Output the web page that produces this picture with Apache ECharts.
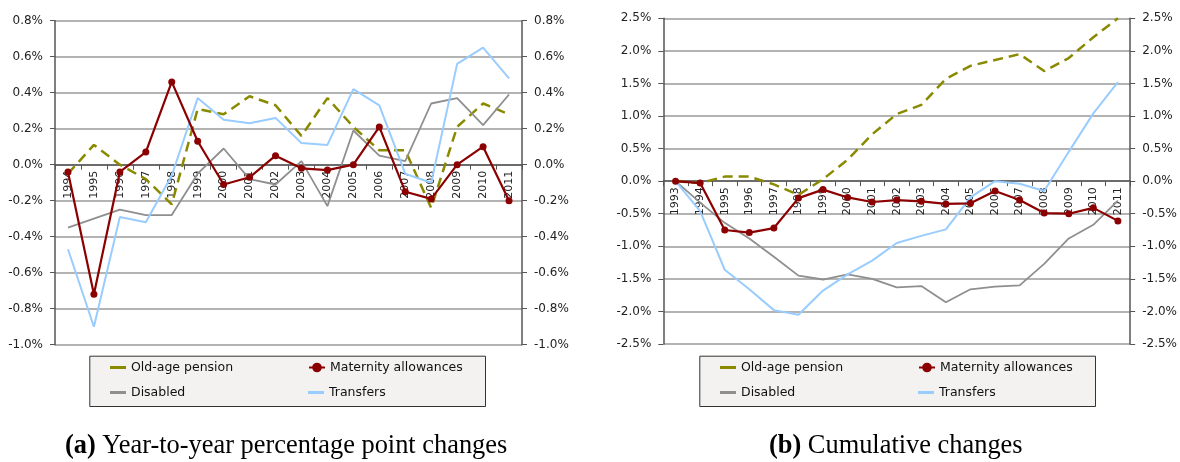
<!DOCTYPE html>
<html>
<head>
<meta charset="utf-8">
<script src="https://cdn.jsdelivr.net/npm/echarts@6/dist/echarts.min.js"></script>
<style>
  html, body { margin: 0; padding: 0; background: #fff; }
  #chart { width: 1180px; height: 462px; }
</style>
</head>
<body>
<div id="chart"></div>
<script>
// (a) year-to-year changes, percentage points
const yearsA = ['1994', '1995', '1996', '1997', '1998', '1999', '2000', '2001', '2002',
  '2003', '2004', '2005', '2006', '2007', '2008', '2009', '2010', '2011'];
const oldAgeA = [-0.05, 0.11, 0.0, -0.08, -0.22, 0.31, 0.28, 0.38, 0.33, 0.16, 0.37, 0.21, 0.08, 0.08, -0.24, 0.21, 0.34, 0.28];
const maternityA = [-0.04, -0.72, -0.04, 0.07, 0.46, 0.13, -0.11, -0.07, 0.05, -0.02, -0.03, 0.0, 0.21, -0.15, -0.19, 0.0, 0.10, -0.20];
const disabledA = [-0.35, -0.30, -0.25, -0.28, -0.28, -0.05, 0.09, -0.08, -0.11, 0.02, -0.23, 0.19, 0.05, 0.02, 0.34, 0.37, 0.22, 0.39];
const transfersA = [-0.47, -0.90, -0.29, -0.32, -0.06, 0.37, 0.25, 0.23, 0.26, 0.12, 0.11, 0.42, 0.33, -0.05, -0.10, 0.56, 0.65, 0.48];

// (b) cumulative changes
const yearsB = ['1993', '1994', '1995', '1996', '1997', '1998', '1999', '2000', '2001', '2002',
  '2003', '2004', '2005', '2006', '2007', '2008', '2009', '2010', '2011'];
const oldAgeB = [0, -0.03, 0.07, 0.07, -0.05, -0.21, 0.03, 0.33, 0.72, 1.03, 1.17, 1.57, 1.77, 1.86, 1.95, 1.69, 1.89, 2.21, 2.5];
const maternityB = [0, -0.03, -0.75, -0.79, -0.72, -0.26, -0.13, -0.25, -0.32, -0.29, -0.31, -0.35, -0.34, -0.15, -0.29, -0.49, -0.50, -0.41, -0.61];
const disabledB = [0, -0.33, -0.64, -0.88, -1.16, -1.45, -1.51, -1.43, -1.50, -1.63, -1.61, -1.86, -1.66, -1.62, -1.60, -1.27, -0.88, -0.67, -0.30];
const transfersB = [0, -0.46, -1.36, -1.66, -1.98, -2.05, -1.68, -1.43, -1.22, -0.95, -0.84, -0.74, -0.25, 0.0, -0.04, -0.15, 0.45, 1.04, 1.52];

const names = ['Old-age pension', 'Maternity allowances', 'Disabled', 'Transfers'];
const colors = ['#8a8a00', '#8b0000', '#8f8f8f', '#99ccff'];

const font = 'DejaVu Sans';
const axisColor = '#555';
const gridColor = '#9a9a9a';

// grid boxes, px
const gridA = { left: 55, top: 20.7, width: 467, height: 324 };
const gridB = { left: 663.3, top: 18.3, width: 470, height: 325.7 };

function pct(v) {
  if (Math.abs(v) < 1e-9) v = 0;
  return v.toFixed(1) + '%';
}

// category axis sits on the zero line: shift it up from the grid bottom
function xAxisFor(grid, data, box, min, max) {
  const zeroShift = box.height * (0 - min) / (max - min);
  return {
    gridIndex: grid,
    type: 'category',
    data: data,
    offset: -zeroShift,
    axisLine: { onZero: false, lineStyle: { color: axisColor, width: 1.5 } },
    axisTick: { show: true, length: 5, lineStyle: { color: axisColor, width: 1 } },
    axisLabel: { rotate: 90, interval: 0, margin: 6, fontSize: 11, fontFamily: font, color: '#222' }
  };
}

function yAxisFor(grid, pos, min, max, step) {
  return {
    gridIndex: grid,
    type: 'value',
    position: pos,
    min: min,
    max: max,
    interval: step,
    axisLine: { show: true, onZero: false, lineStyle: { color: axisColor, width: 1.5 } },
    axisTick: { show: true, length: 5, lineStyle: { color: axisColor } },
    axisLabel: { margin: 12, fontSize: 12, fontFamily: font, color: '#222', formatter: pct },
    splitLine: { show: pos === 'left', lineStyle: { color: gridColor, width: 1.5 } }
  };
}

function seriesFor(x, y, vals) {
  return [
    {
      name: names[0], type: 'line', xAxisIndex: x, yAxisIndex: y, data: vals[0],
      symbol: 'none', lineStyle: { color: colors[0], width: 2.5, type: [10, 6] }, itemStyle: { color: colors[0] }
    },
    {
      name: names[2], type: 'line', xAxisIndex: x, yAxisIndex: y, data: vals[2],
      symbol: 'none', lineStyle: { color: colors[2], width: 1.8 }, itemStyle: { color: colors[2] }
    },
    {
      name: names[3], type: 'line', xAxisIndex: x, yAxisIndex: y, data: vals[3],
      symbol: 'none', lineStyle: { color: colors[3], width: 2 }, itemStyle: { color: colors[3] }
    },
    {
      name: names[1], type: 'line', xAxisIndex: x, yAxisIndex: y, data: vals[1],
      symbol: 'circle', symbolSize: 7, lineStyle: { color: colors[1], width: 2.2 }, itemStyle: { color: colors[1] }
    }
  ];
}

function legendAt(i, left, top) {
  const base = {
    data: [names[i]],
    left: left,
    top: top,
    padding: 0,
    itemWidth: 16,
    selectedMode: false,
    textStyle: { fontSize: 12.5, fontFamily: font, color: '#111' }
  };
  if (i === 1) {
    base.itemHeight = 12;
  } else {
    // plain short solid stroke, no dashes
    base.icon = 'rect';
    base.itemHeight = 3;
    base.itemStyle = { borderWidth: 0 };
    base.lineStyle = { type: [16, 0] };
  }
  return base;
}

const chart = echarts.init(document.getElementById('chart'), null, { renderer: 'canvas' });

const option = {
  animation: false,
  backgroundColor: '#fff',
  grid: [gridA, gridB],
  xAxis: [xAxisFor(0, yearsA, gridA, -1, 0.8), xAxisFor(1, yearsB, gridB, -2.5, 2.5)],
  yAxis: [
    yAxisFor(0, 'left', -1, 0.8, 0.2),
    yAxisFor(0, 'right', -1, 0.8, 0.2),
    yAxisFor(1, 'left', -2.5, 2.5, 0.5),
    yAxisFor(1, 'right', -2.5, 2.5, 0.5)
  ],
  legend: [
    legendAt(0, 110, 361),
    legendAt(1, 308, 361),
    legendAt(2, 110, 386),
    legendAt(3, 308, 386),
    legendAt(0, 720, 361),
    legendAt(1, 918, 361),
    legendAt(2, 720, 386),
    legendAt(3, 918, 386)
  ],
  graphic: [
    {
      type: 'rect', left: 89.3, top: 355.7, z: -1,
      shape: { width: 395.7, height: 50.3 },
      style: { fill: '#f3f2f0', stroke: '#333', lineWidth: 1 }
    },
    {
      type: 'rect', left: 699.3, top: 355.7, z: -1,
      shape: { width: 395.7, height: 50.3 },
      style: { fill: '#f3f2f0', stroke: '#333', lineWidth: 1 }
    },
    {
      type: 'text', left: 65, top: 433,
      style: {
        text: '{b|(a)} Year-to-year percentage point changes',
        font: '26.4px "Liberation Serif"', fill: '#000',
        rich: { b: { fontWeight: 'bold', fontSize: 26.4, fontFamily: 'Liberation Serif' } }
      }
    },
    {
      type: 'text', left: 769, top: 433,
      style: {
        text: '{b|(b)} Cumulative changes',
        font: '26.4px "Liberation Serif"', fill: '#000',
        rich: { b: { fontWeight: 'bold', fontSize: 26.4, fontFamily: 'Liberation Serif' } }
      }
    }
  ],
  series: [
    ...seriesFor(0, 0, [oldAgeA, maternityA, disabledA, transfersA]),
    ...seriesFor(1, 2, [oldAgeB, maternityB, disabledB, transfersB])
  ]
};

chart.setOption(option);
window.addEventListener('resize', () => chart.resize());
</script>
</body>
</html>
